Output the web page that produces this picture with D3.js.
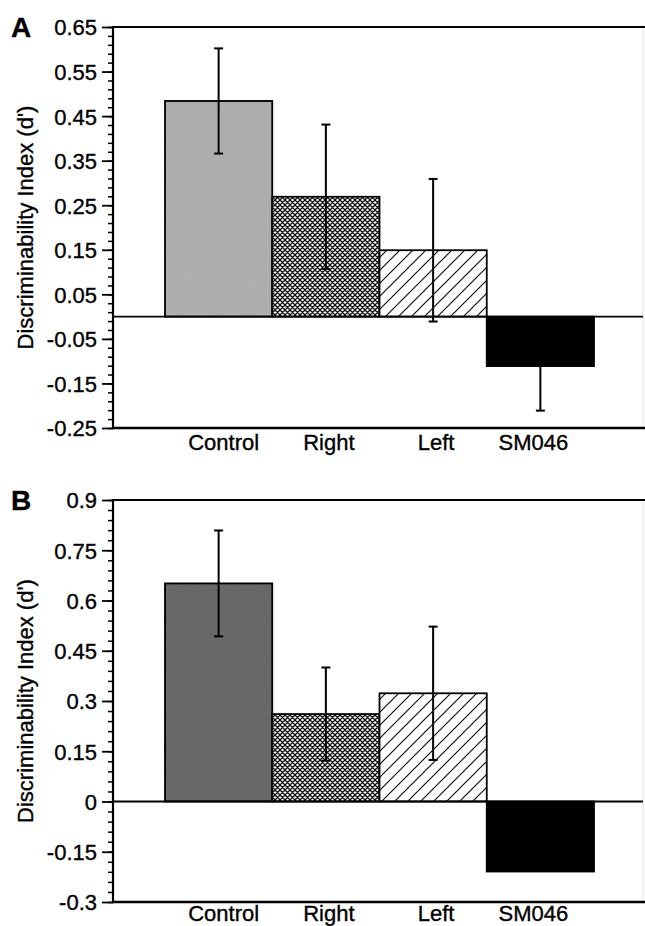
<!DOCTYPE html>
<html>
<head>
    <meta charset="utf-8">
    <script src="https://d3js.org/d3.v7.min.js"></script>
    <style>
        html, body {
            margin: 0;
            background-color: white;
        }
        svg text {
            font-family: 'Liberation Sans', Arial, sans-serif;
            fill: black;
            stroke: black;
            stroke-width: 0.35px;
        }
    </style>
</head>
<body>
<div id="main"></div>
<script>

//DATA
const groups = ['Control', 'Right', 'Left', 'SM046']

const meanA = [0.484, 0.269, 0.149, -0.111]
const errA  = [0.118, 0.162, 0.160, 0.100]
const ticksA = [0.65, 0.55, 0.45, 0.35, 0.25, 0.15, 0.05, -0.05, -0.15, -0.25]
const labelsA = ['0.65', '0.55', '0.45', '0.35', '0.25', '0.15', '0.05', '-0.05', '-0.15', '-0.25']

const meanB = [0.651, 0.261, 0.323, -0.209]
const errB  = [0.158, 0.139, 0.199, 0]
const ticksB = [0.9, 0.75, 0.6, 0.45, 0.3, 0.15, 0, -0.15, -0.3]
const labelsB = ['0.9', '0.75', '0.6', '0.45', '0.3', '0.15', '0', '-0.15', '-0.3']

//LAYOUT
const W = 645, H = 926
const left = 113, right = 643

const svg = d3.select('#main').append('svg')
    .attr('width', W)
    .attr('height', H)

//PATTERNS
const defs = svg.append('defs')

const cross = defs.append('pattern')
    .attr('id', 'cross')
    .attr('patternUnits', 'userSpaceOnUse')
    .attr('width', 5).attr('height', 5)
cross.append('rect').attr('width', 5).attr('height', 5).attr('fill', 'white')
cross.append('path')
    .attr('d', 'M0,0L5,5M5,0L0,5M-1,1L1,-1M4,6L6,4M-1,4L1,6M4,-1L6,1')
    .attr('stroke', '#111').attr('stroke-width', 1.3)

const hatch = defs.append('pattern')
    .attr('id', 'hatch')
    .attr('patternUnits', 'userSpaceOnUse')
    .attr('width', 13).attr('height', 13)
hatch.append('rect').attr('width', 13).attr('height', 13).attr('fill', 'white')
hatch.append('path')
    .attr('d', 'M0,13L13,0M-3,3L3,-3M10,16L16,10')
    .attr('stroke', '#111').attr('stroke-width', 1.2)

// grainy grey like the scanned print
const grain = defs.append('filter').attr('id', 'grain')
grain.append('feTurbulence')
    .attr('type', 'fractalNoise').attr('baseFrequency', 0.9).attr('numOctaves', 2)
    .attr('seed', 3).attr('result', 'n')
grain.append('feColorMatrix')
    .attr('in', 'n').attr('type', 'matrix')
    .attr('values', '0 0 0 0 0  0 0 0 0 0  0 0 0 0 0  0 0 0 0.12 0')
    .attr('result', 'a')
grain.append('feComposite').attr('in', 'a').attr('in2', 'SourceGraphic').attr('operator', 'in').attr('result', 'b')
grain.append('feMerge').selectAll('feMergeNode')
    .data(['SourceGraphic', 'b']).join('feMergeNode').attr('in', d => d)

const fillsA = ['#b2b2b2', 'url(#cross)', 'url(#hatch)', '#000']
const fillsB = ['#6c6c6c', 'url(#cross)', 'url(#hatch)', '#000']

drawPanel({
    letter: 'A', top: 27, bottom: 428, domain: [-0.25, 0.65], step: 0.02,
    ticks: ticksA, labels: labelsA, mean: meanA, err: errA, fills: fillsA, labelY: 450
})
drawPanel({
    letter: 'B', top: 500, bottom: 902, domain: [-0.3, 0.9], step: 0.03,
    ticks: ticksB, labels: labelsB, mean: meanB, err: errB, fills: fillsB, labelY: 921
})

//DRAWING
function drawPanel(p) {
    const g = svg.append('g')

    const y = d3.scaleLinear().domain(p.domain).range([p.bottom, p.top])
    const x = d3.scaleBand().domain(groups).range([165, 594]).padding(0)

    // right border, faint
    g.append('line')
        .attr('x1', right).attr('x2', right).attr('y1', p.top).attr('y2', p.bottom)
        .attr('stroke', '#e2e2e2').attr('stroke-width', 1)

    // minor ticks
    const minor = d3.range(Math.round((p.domain[1] - p.domain[0]) / p.step) + 1)
        .map(i => p.domain[0] + i * p.step)
    g.append('g')
        .attr('transform', 'translate(' + left + ',0)')
        .call(d3.axisLeft(y).tickValues(minor).tickSize(5).tickFormat(''))
        .call(a => a.select('.domain').remove())
        .selectAll('line').attr('stroke-width', 1.5)

    // major ticks
    const ax = g.append('g')
        .attr('transform', 'translate(' + left + ',0)')
        .call(d3.axisLeft(y).tickValues(p.ticks).tickSize(11).tickPadding(5)
            .tickFormat((d, i) => p.labels[i]))
    ax.select('.domain').remove()
    ax.selectAll('line').attr('stroke-width', 1.8)
    ax.selectAll('text')
        .style('font-size', '22px')
        .attr('dy', '0.36em')

    // bars
    g.selectAll('.bar')
        .data(groups)
        .join('rect')
        .attr('class', 'bar')
        .attr('x', d => x(d))
        .attr('width', x.bandwidth())
        .attr('y', (d, i) => y(Math.max(0, p.mean[i])))
        .attr('height', (d, i) => Math.abs(y(p.mean[i]) - y(0)))
        .attr('fill', (d, i) => p.fills[i])
        .attr('filter', (d, i) => i === 0 ? 'url(#grain)' : null)
        .attr('stroke', 'black')
        .attr('stroke-width', 1.8)

    // zero line
    g.append('line')
        .attr('x1', left).attr('x2', right)
        .attr('y1', y(0)).attr('y2', y(0))
        .attr('stroke', 'black').attr('stroke-width', 1.8)

    // error bars
    const eb = g.selectAll('.err')
        .data(groups.map((d, i) => ({ k: d, m: p.mean[i], e: p.err[i] })).filter(d => d.e > 0))
        .join('g')
        .attr('class', 'err')
    eb.append('line')
        .attr('x1', d => x(d.k) + x.bandwidth() / 2)
        .attr('x2', d => x(d.k) + x.bandwidth() / 2)
        .attr('y1', d => y(d.m + d.e))
        .attr('y2', d => y(d.m - d.e))
        .attr('stroke', 'black').attr('stroke-width', 2)
    eb.selectAll('.cap')
        .data(d => [d.m + d.e, d.m - d.e].map(v => ({ k: d.k, v: v })))
        .join('line')
        .attr('class', 'cap')
        .attr('x1', d => x(d.k) + x.bandwidth() / 2 - 4.5)
        .attr('x2', d => x(d.k) + x.bandwidth() / 2 + 4.5)
        .attr('y1', d => y(d.v))
        .attr('y2', d => y(d.v))
        .attr('stroke', 'black').attr('stroke-width', 2)

    // frame: top, bottom, left axis
    g.append('line')
        .attr('x1', left).attr('x2', W).attr('y1', p.top).attr('y2', p.top)
        .attr('stroke', 'black').attr('stroke-width', 2)
    g.append('line')
        .attr('x1', left - 1).attr('x2', W).attr('y1', p.bottom).attr('y2', p.bottom)
        .attr('stroke', 'black').attr('stroke-width', 2.5)
    g.append('line')
        .attr('x1', left).attr('x2', left).attr('y1', p.top - 1).attr('y2', p.bottom + 1)
        .attr('stroke', 'black').attr('stroke-width', 2.2)

    // category labels, nudged like the print
    const nudge = [5, 3, 3, -7]
    g.selectAll('.cat')
        .data(groups)
        .join('text')
        .attr('class', 'cat')
        .attr('x', (d, i) => x(d) + x.bandwidth() / 2 + nudge[i])
        .attr('y', p.labelY)
        .attr('text-anchor', 'middle')
        .style('font-size', '22px')
        .text(d => d)

    // y title
    g.append('text')
        .attr('transform', 'translate(33,' + ((p.top + p.bottom) / 2) + ') rotate(-90)')
        .attr('text-anchor', 'middle')
        .style('font-size', '22px')
        .text("Discriminability Index (d')")

    // panel letter
    g.append('text')
        .attr('x', 11)
        .attr('y', p.top + 10)
        .style('font-size', '28px')
        .style('font-weight', 'bold')
        .text(p.letter)
}

</script>
</body>
</html>
